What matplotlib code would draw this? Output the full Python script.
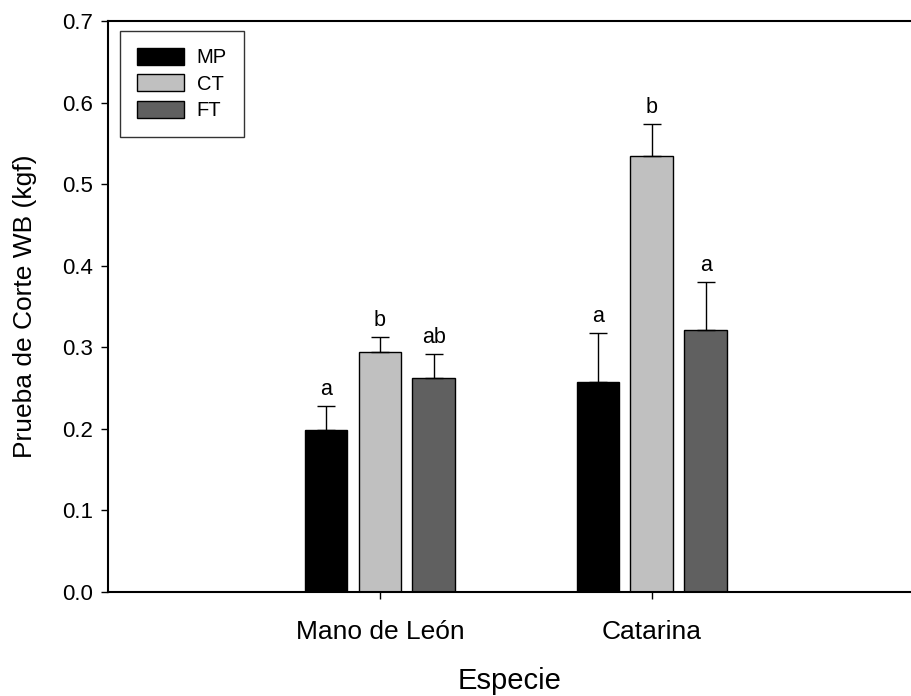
# %% ==========================================================================
# Import and Definitions
# =============================================================================
import matplotlib.pyplot as plt
import numpy as np

plt.rcParams['font.family'] = ['Liberation Sans', 'DejaVu Sans']

# %% ==========================================================================
# Data
# =============================================================================
species = ["Mano de León", "Catarina"]
treatments = ["MP", "CT", "FT"]
colors = ["#000000", "#c0c0c0", "#606060"]

mp_mean = [0.198, 0.257]
ct_mean = [0.294, 0.534]
ft_mean = [0.262, 0.321]
mp_err = [0.030, 0.060]
ct_err = [0.019, 0.040]
ft_err = [0.030, 0.059]
mp_letters = ["a", "a"]
ct_letters = ["b", "b"]
ft_letters = ["ab", "a"]

means = [mp_mean, ct_mean, ft_mean]
errs = [mp_err, ct_err, ft_err]
letters = [mp_letters, ct_letters, ft_letters]

# %% ==========================================================================
# Plot
# =============================================================================
fig = plt.figure(figsize=(9.12, 6.96), dpi=100)
ax = fig.add_axes([108/912, 104/696, 1 - 108/912, (592 - 21)/696])

x = np.arange(1, len(species) + 1)
width = 0.158
step = 0.1985

for i, (name, col) in enumerate(zip(treatments, colors)):
    xpos = x + (i - 1)*step
    ax.bar(xpos, means[i], width, color=col, edgecolor='black',
           linewidth=1.0, label=name, zorder=2)
    ax.errorbar(xpos, means[i], yerr=[np.zeros(len(x)), errs[i]],
                fmt='none', ecolor='black', elinewidth=1.0,
                capsize=6.5, capthick=1.0, zorder=3)
    for xp, m, e, lab in zip(xpos, means[i], errs[i], letters[i]):
        ax.annotate(lab, (xp, m + e), xytext=(0, 8), textcoords='offset points',
                    ha='center', va='baseline', fontsize=15.5)

# Formatting
ax.set_xlim(0, 2.956)
ax.set_ylim(0, 0.7)
ax.set_yticks(np.arange(0, 0.71, 0.1))
ax.set_yticklabels([f"{v:.1f}" for v in np.arange(0, 0.71, 0.1)])
ax.set_xticks(x)
ax.set_xticklabels(species, fontsize=19)
ax.tick_params(axis='y', labelsize=16, direction='out', length=5, width=1, pad=6)
ax.tick_params(axis='x', direction='out', length=5, width=1, pad=15)
ax.spines['right'].set_visible(False)
for s in ['left', 'top', 'bottom']:
    ax.spines[s].set_linewidth(1.5)

ax.set_xlabel('Especie', fontsize=21, labelpad=17)
ax.set_ylabel('Prueba de Corte WB (kgf)', fontsize=19, labelpad=18)

leg = ax.legend(loc='upper left', bbox_to_anchor=(12/804, 1 - 10/571),
                fontsize=14.5, fancybox=False, framealpha=1, edgecolor='#333333',
                handlelength=2.35, handleheight=0.9, labelspacing=0.35,
                handletextpad=0.6, borderpad=0.85, borderaxespad=0)
leg.get_frame().set_linewidth(1.0)

fig.savefig('out.png', dpi=100)
